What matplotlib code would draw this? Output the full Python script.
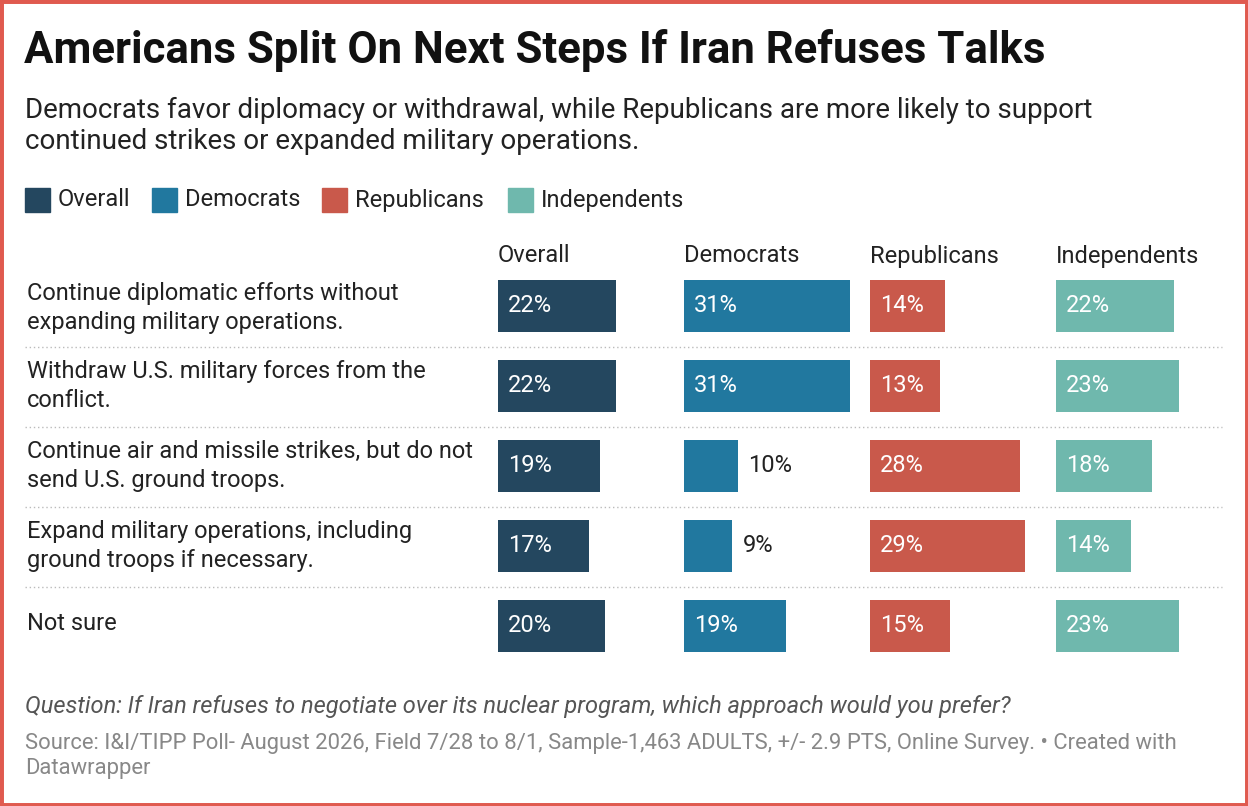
import matplotlib
matplotlib.use("Agg")
import matplotlib.pyplot as plt
from matplotlib.patches import Rectangle
from matplotlib.lines import Line2D

plt.rcParams['font.family'] = ['Roboto', 'DejaVu Sans']

categories = ["Continue diplomatic efforts without\nexpanding military operations.",
              "Withdraw U.S. military forces from the\nconflict.",
              "Continue air and missile strikes, but do not\nsend U.S. ground troops.",
              "Expand military operations, including\nground troops if necessary.",
              "Not sure"]
groups = ["Overall", "Democrats", "Republicans", "Independents"]
overall = [22, 22, 19, 17, 20]
democrats = [31, 31, 10, 9, 19]
republicans = [14, 13, 28, 29, 15]
independents = [22, 23, 18, 14, 23]
series = [overall, democrats, republicans, independents]
colors = ["#24475f", "#21789f", "#c9594b", "#6fb8ad"]

W, H = 1248, 806
fig = plt.figure(figsize=(W/100, H/100), dpi=100)
fig.patches.append(Rectangle((0, 0), 1, 1, transform=fig.transFigure, fill=False,
                             edgecolor="#e05a4f", linewidth=5))

def fx(px): return px / W
def fy(py): return 1 - py / H

fig.text(fx(24), fy(50), "Americans Split On Next Steps If Iran Refuses Talks",
         fontsize=31.5, fontweight='bold', va='center', color='#111')
fig.text(fx(25), fy(126), "Democrats favor diplomacy or withdrawal, while Republicans are more likely to support\ncontinued strikes or expanded military operations.",
         fontsize=20, va='center', color='#222', linespacing=1.2)

lx = [25, 152, 322, 508]
for x, g, c in zip(lx, groups, colors):
    fig.patches.append(Rectangle((fx(x), fy(212)), 25/W, 24/H, transform=fig.transFigure,
                                 color=c))
    fig.text(fx(x + 33), fy(200), g, fontsize=17, va='center', color='#222')

for y in [347, 427, 507, 587]:
    fig.add_artist(Line2D([fx(25), fx(1222)], [fy(y), fy(y)], transform=fig.transFigure,
                          color='#bbb', linestyle=(0, (1, 2)), linewidth=1))

row_y = [308, 386, 466, 546, 624]
for y, cat in zip(row_y, categories):
    fig.text(fx(27), fy(y), cat, fontsize=17, va='center', color='#222', linespacing=1.35)

starts = [498, 684, 870, 1056]
colw = 186
for s, g, vals, c in zip(starts, groups, series, colors):
    fig.text(fx(s), fy(256), g, fontsize=17, va='center', color='#222')
    ax = fig.add_axes([fx(s), fy(666), colw / W, 400 / H])
    ax.set_xlim(0, colw / 5.36)
    ax.set_ylim(4.5, -0.5)
    ax.barh(range(5), vals, height=0.65, color=c)
    for i, v in enumerate(vals):
        if v >= 12:
            ax.text(1.9, i, f"{v}%", color='white', fontsize=17, va='center')
        else:
            ax.text(v + 1.9, i, f"{v}%", color='#222', fontsize=17, va='center')
    ax.axis('off')

fig.text(fx(25), fy(706), "Question: If Iran refuses to negotiate over its nuclear program, which approach would you prefer?",
         fontsize=17, style='italic', va='center', color='#555')
fig.text(fx(25), fy(756), "Source: I&I/TIPP Poll- August 2026, Field 7/28 to 8/1, Sample-1,463 ADULTS, +/- 2.9 PTS, Online Survey. • Created with\nDatawrapper",
         fontsize=15.8, va='center', color='#888', linespacing=1.25)

fig.savefig("out.png", dpi=100)
